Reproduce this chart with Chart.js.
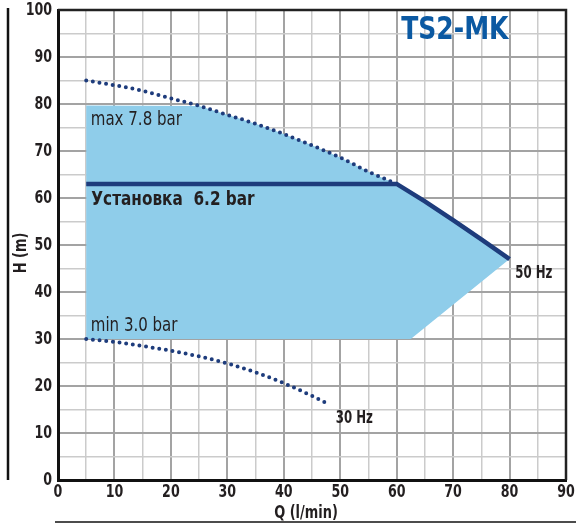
<!DOCTYPE html>
<html>
<head>
<meta charset="utf-8">
<script src="https://cdn.jsdelivr.net/npm/chart.js@4.4.1/dist/chart.umd.min.js"></script>
<style>
  body { margin: 0; background: #fff; }
  #wrap { width: 576px; height: 525px; }
</style>
</head>
<body>
<div id="wrap"><canvas id="pumpChart" width="576" height="525"></canvas></div>
<script>
// 50 Hz curve above the setpoint (dotted, "max")
const qMax = [5, 10, 15, 20, 25, 30, 35, 40, 45, 50, 55, 60];
const hMax = [85, 84, 82.8, 81.2, 79.6, 77.7, 75.8, 73.6, 71.2, 68.6, 65.6, 63];
// setpoint 6.2 bar, then the 50 Hz curve to its end
const qSet = [5, 60, 65, 70, 75, 80];
const hSet = [63, 63, 59.3, 55.3, 51.2, 47];
// 30 Hz curve (dotted)
const qMin = [5, 10, 15, 20, 25, 30, 35, 40, 45, 47.5];
const hMin = [30, 29.4, 28.5, 27.5, 26.3, 24.8, 22.9, 20.6, 17.9, 16.4];
// working range (blue area)
const qArea = [5, 5, 25, 30, 35, 40, 45, 50, 55, 60, 65, 70, 75, 80, 62.5];
const hArea = [30, 79.7, 79.6, 77.7, 75.8, 73.6, 71.2, 68.6, 65.6, 63, 59.3, 55.3, 51.2, 47, 30];

const xTicks = [0, 10, 20, 30, 40, 50, 60, 70, 80, 90];
const yTicks = [0, 10, 20, 30, 40, 50, 60, 70, 80, 90, 100];

const notes = [
  { text: 'max 7.8 bar', x: 5.8, y: 75.6, bold: false, size: 19, sx: 0.88 },
  { text: 'Установка  6.2 bar', x: 5.9, y: 58.6, bold: true, size: 20, sx: 0.85 },
  { text: 'min 3.0 bar', x: 5.8, y: 31.8, bold: false, size: 19, sx: 0.88 },
  { text: '50 Hz', x: 81, y: 42.9, bold: true, size: 17, sx: 0.77 },
  { text: '30 Hz', x: 49.2, y: 12.1, bold: true, size: 17, sx: 0.77 },
  { text: 'TS2-MK', x: 60.8, y: 93.8, bold: true, size: 32, sx: 0.87, color: '#0b59a2' }
];

const FONT = '"Liberation Sans Narrow", "DejaVu Sans Condensed", "Roboto Condensed", sans-serif';
const NAVY = '#1e3c7c';
const INK = '#231f20';

function pts(qs, hs) {
  return qs.map((q, i) => ({ x: q, y: hs[i] }));
}

function gridColor(ctx) {
  return ctx.tick && ctx.tick.value % 10 === 0 ? '#a3a3a3' : '#cbcbcb';
}
function gridWidth(ctx) {
  return ctx.tick && ctx.tick.value % 10 === 0 ? 2 : 1.5;
}

// narrow text: squeeze horizontally to mimic a condensed face
function narrowText(c, text, x, y, font, sx, align, base, color) {
  c.save();
  c.font = font;
  c.fillStyle = color || INK;
  c.textAlign = align;
  c.textBaseline = base;
  c.translate(x, y);
  c.scale(sx, 1);
  c.fillText(text, 0, 0);
  c.restore();
}

const extras = {
  id: 'extras',
  afterDatasetsDraw(chart) {
    const c = chart.ctx, xs = chart.scales.x, ys = chart.scales.y;
    notes.forEach(n => {
      narrowText(c, n.text, xs.getPixelForValue(n.x), ys.getPixelForValue(n.y),
        (n.bold ? 'bold ' : '') + n.size + 'px ' + FONT, n.sx, 'left', 'alphabetic', n.color);
    });
  },
  afterDraw(chart) {
    const c = chart.ctx, a = chart.chartArea, xs = chart.scales.x, ys = chart.scales.y;
    c.save();
    // top and right frame
    c.strokeStyle = '#222';
    c.lineWidth = 2.5;
    c.beginPath();
    c.moveTo(a.left, a.top);
    c.lineTo(a.right, a.top);
    c.lineTo(a.right, a.bottom);
    c.stroke();
    // decorative rules
    c.strokeStyle = '#111';
    c.lineWidth = 2.5;
    c.beginPath();
    c.moveTo(8, a.top - 2);
    c.lineTo(8, a.bottom);
    c.stroke();
    c.lineWidth = 1.5;
    c.beginPath();
    c.moveTo(55, 522);
    c.lineTo(576, 522);
    c.stroke();
    c.restore();
    // tick labels
    const tf = 'bold 18px ' + FONT;
    xTicks.forEach(v => narrowText(c, String(v), xs.getPixelForValue(v), a.bottom + 12, tf, 0.78, 'center', 'middle'));
    yTicks.forEach(v => narrowText(c, String(v), a.left - 6, ys.getPixelForValue(v), tf, 0.78, 'right', 'middle'));
    // axis titles
    narrowText(c, 'Q (l/min)', 306, 513, tf, 0.8, 'center', 'middle');
    c.save();
    c.translate(21, 253);
    c.rotate(-Math.PI / 2);
    narrowText(c, 'H (m)', 0, 0, tf, 0.8, 'center', 'middle');
    c.restore();
  }
};

const lineBase = { pointRadius: 0, pointHoverRadius: 0, fill: false };

const config = {
  type: 'line',
  data: {
    datasets: [
      {
        ...lineBase,
        data: pts(qMax, hMax),
        borderColor: NAVY,
        borderWidth: 4,
        borderDash: [0, 6.7],
        borderCapStyle: 'round',
        cubicInterpolationMode: 'monotone',
        order: 1
      },
      {
        ...lineBase,
        data: pts(qSet, hSet),
        borderColor: NAVY,
        borderWidth: 4.5,
        tension: 0,
        order: 0
      },
      {
        ...lineBase,
        data: pts(qMin, hMin),
        borderColor: NAVY,
        borderWidth: 4,
        borderDash: [0, 6.7],
        borderCapStyle: 'round',
        cubicInterpolationMode: 'monotone',
        order: 1
      },
      {
        ...lineBase,
        data: pts(qArea, hArea),
        borderWidth: 0,
        borderColor: 'rgba(0,0,0,0)',
        backgroundColor: '#8fcdea',
        fill: 'shape',
        tension: 0,
        order: 5
      }
    ]
  },
  options: {
    responsive: false,
    animation: false,
    events: [],
    layout: { padding: { left: 0, right: 10, top: 10, bottom: 0 } },
    plugins: { legend: { display: false }, tooltip: { enabled: false } },
    scales: {
      x: {
        type: 'linear',
        min: 0,
        max: 90,
        afterFit(s) { s.height = 45; s.paddingLeft = 0; s.paddingRight = 0; },
        afterBuildTicks(s) { s.ticks = []; for (let v = 0; v <= 90; v += 5) s.ticks.push({ value: v }); },
        ticks: { display: false },
        grid: { color: gridColor, lineWidth: gridWidth, drawTicks: false },
        border: { color: '#111', width: 3 }
      },
      y: {
        type: 'linear',
        min: 0,
        max: 100,
        afterFit(s) { s.width = 58; s.paddingTop = 0; s.paddingBottom = 0; },
        afterBuildTicks(s) { s.ticks = []; for (let v = 0; v <= 100; v += 5) s.ticks.push({ value: v }); },
        ticks: { display: false },
        grid: { color: gridColor, lineWidth: gridWidth, drawTicks: false },
        border: { color: '#111', width: 3 }
      }
    }
  },
  plugins: [extras]
};

const pumpChart = new Chart(document.getElementById('pumpChart'), config);
</script>
</body>
</html>
